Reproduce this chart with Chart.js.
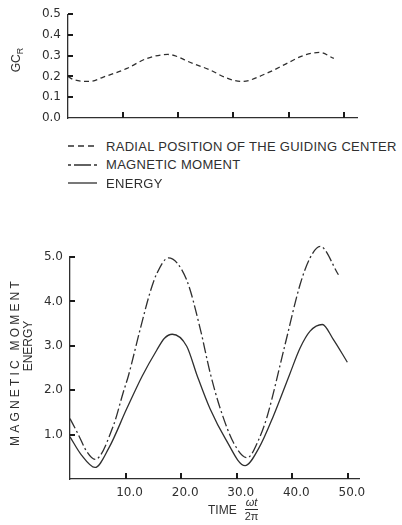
<!DOCTYPE html>
<html lang="en">
<head>
<meta charset="UTF-8">
<title>Guiding center, magnetic moment and energy vs time</title>
<script src="https://cdn.jsdelivr.net/npm/chart.js"></script>
<style>
  body { margin: 0; background: #fff; font-family: "Liberation Sans", Arial, sans-serif; color: #2f2f2f; }
  #page { position: relative; width: 402px; height: 525px; overflow: hidden; }
  canvas { position: absolute; left: 0; }
  #gcChart { top: 0; }
  #meChart { top: 240px; }
  .vlabel { position: absolute; white-space: nowrap; font-size: 12px; transform: translate(-50%, -50%) rotate(-90deg); }
  .vlabel sub { font-size: 9px; }
  #legend { position: absolute; left: 68px; top: 137px; font-size: 13px; letter-spacing: 0.3px; }
  .row { height: 18.5px; display: flex; align-items: center; }
  .row svg { margin-right: 9px; }
  #xtitle { position: absolute; left: 208px; top: 497px; display: flex; align-items: center; font-size: 12px; }
  .frac { display: inline-flex; flex-direction: column; align-items: center; margin-left: 8px; font-size: 11px; line-height: 11px; }
  .frac .num { border-bottom: 1.3px solid #2f2f2f; padding: 0 1px 1px; font-style: italic; }
  .frac .den { padding-top: 1px; }
</style>
</head>
<body>
<div id="page">
  <canvas id="gcChart" width="402" height="134"></canvas>
  <div class="vlabel" style="left:17px; top:60px;">GC<sub>R</sub></div>

  <div id="legend">
    <div class="row"><svg width="29" height="4"><line x1="0" y1="2" x2="29" y2="2" stroke="#2f2f2f" stroke-width="1.3" stroke-dasharray="6 4"/></svg>RADIAL POSITION OF THE GUIDING CENTER</div>
    <div class="row"><svg width="29" height="4"><line x1="0" y1="2" x2="29" y2="2" stroke="#2f2f2f" stroke-width="1.3" stroke-dasharray="3 3 17 3 3"/></svg>MAGNETIC MOMENT</div>
    <div class="row"><svg width="29" height="4"><line x1="0" y1="2" x2="29" y2="2" stroke="#2f2f2f" stroke-width="1.3"/></svg>ENERGY</div>
  </div>

  <canvas id="meChart" width="402" height="285"></canvas>
  <div class="vlabel" style="left:15px; top:362px; letter-spacing:3.2px;">MAGNETIC MOMENT</div>
  <div class="vlabel" style="left:28px; top:346px;">ENERGY</div>
  <div id="xtitle">TIME<span class="frac"><span class="num">ωt</span><span class="den">2π</span></span></div>
</div>

<script>
  // radial position of the guiding center
  var gcTime   = [0, 1, 4, 6.3, 10.7, 14.3, 18.1, 22.6, 25.7, 28.8, 31.5, 36, 39.7, 42.6, 45.6, 48.2];
  var gcValues = [0.200, 0.185, 0.176, 0.196, 0.239, 0.287, 0.306, 0.263, 0.232, 0.192, 0.176, 0.215, 0.263, 0.300, 0.316, 0.287];

  // magnetic moment
  var momentTime   = [0, 1.5, 3, 4.5, 7.8, 9.6, 10.5, 12.6, 14.4, 15.6, 17.7, 21, 23.4, 25.2, 27, 29.5, 31.9, 34, 35.5, 38.7, 41.4, 43.2, 45, 48.3];
  var momentValues = [1.36, 1.0, 0.62, 0.44, 1.2, 1.96, 2.32, 3.36, 4.2, 4.62, 4.98, 4.48, 3.4, 2.4, 1.6, 0.8, 0.48, 0.9, 1.42, 3.03, 4.38, 4.98, 5.24, 4.6];

  // energy
  var energyTime   = [0, 2, 4.5, 7, 10.2, 13, 15.6, 17, 18.4, 21, 22.9, 25.2, 28, 31.5, 34, 36.6, 39.5, 41.4, 43.2, 45.4, 47.4, 49.9];
  var energyValues = [0.95, 0.55, 0.26, 0.7, 1.58, 2.32, 2.9, 3.17, 3.26, 2.99, 2.32, 1.58, 0.9, 0.3, 0.7, 1.42, 2.35, 2.95, 3.33, 3.48, 3.14, 2.63];

  // tick positions
  var timeTicks   = [10, 20, 30, 40, 50];
  var gcTicks     = [0, 0.1, 0.2, 0.3, 0.4, 0.5];
  var energyTicks = [1, 2, 3, 4, 5];

  var ink = '#2f2f2f';
  var tickFont = { family: '"DejaVu Sans", sans-serif', size: 12 };

  function pts(xs, ys) {
    return xs.map(function (x, i) { return { x: x, y: ys[i] }; });
  }

  // short tick marks pointing into the plot from both axes
  var innerTicks = {
    id: 'innerTicks',
    afterDraw: function (chart) {
      var ctx = chart.ctx, x = chart.scales.x, y = chart.scales.y;
      var a = chart.chartArea;
      ctx.save();
      ctx.setLineDash([]);
      ctx.strokeStyle = '#1a1a1a';
      ctx.lineWidth = 2;
      ctx.beginPath();
      timeTicks.forEach(function (v) {
        var px = Math.round(x.getPixelForValue(v));
        ctx.moveTo(px, a.bottom);
        ctx.lineTo(px, a.bottom - 6);
      });
      y.ticks.forEach(function (t) {
        if (t.value === 0) return;
        var py = Math.round(y.getPixelForValue(t.value));
        ctx.moveTo(a.left, py);
        ctx.lineTo(a.left + 5, py);
      });
      ctx.stroke();
      ctx.restore();
    }
  };

  function lineSet(data, dash) {
    return {
      data: data,
      borderColor: ink,
      borderWidth: 1.3,
      borderDash: dash,
      pointRadius: 0,
      fill: false,
      tension: 0.4,
      cubicInterpolationMode: 'monotone',
      clip: false
    };
  }

  function axisX(max, showLabels, height) {
    return {
      type: 'linear', min: 0, max: max,
      grid: { display: false, drawTicks: false },
      border: { color: ink, width: 1.3 },
      ticks: {
        display: showLabels, color: ink, font: tickFont, padding: 7, labelOffset: 4, maxRotation: 0,
        callback: function (v) { return v.toFixed(1); }
      },
      afterBuildTicks: function (s) { s.ticks = timeTicks.map(function (v) { return { value: v }; }); },
      afterFit: function (s) { s.height = height; }
    };
  }

  function axisY(max, list, width) {
    return {
      min: 0, max: max,
      grid: { display: false, drawTicks: false },
      border: { color: ink, width: 1.3 },
      ticks: {
        color: ink, font: tickFont, padding: 7,
        callback: function (v) { return v.toFixed(1); }
      },
      afterBuildTicks: function (s) { s.ticks = list.map(function (v) { return { value: v }; }); },
      afterFit: function (s) { s.width = width; }
    };
  }

  new Chart(document.getElementById('gcChart'), {
    type: 'line',
    data: { datasets: [lineSet(pts(gcTime, gcValues), [5, 3.5])] },
    options: {
      responsive: false,
      animation: false,
      layout: { padding: { top: 9, right: 45, left: 0, bottom: 0 } },
      plugins: { legend: { display: false }, tooltip: { enabled: false } },
      scales: { x: axisX(52.4, false, 16), y: axisY(0.5, gcTicks, 68) }
    },
    plugins: [innerTicks]
  });

  new Chart(document.getElementById('meChart'), {
    type: 'line',
    data: {
      datasets: [
        lineSet(pts(momentTime, momentValues), [11, 3, 2, 3]),
        lineSet(pts(energyTime, energyValues), [])
      ]
    },
    options: {
      responsive: false,
      animation: false,
      layout: { padding: { top: 17, right: 43, left: 0, bottom: 0 } },
      plugins: { legend: { display: false }, tooltip: { enabled: false } },
      scales: { x: axisX(52, true, 46), y: axisY(5, energyTicks, 70) }
    },
    plugins: [innerTicks]
  });
</script>
</body>
</html>
